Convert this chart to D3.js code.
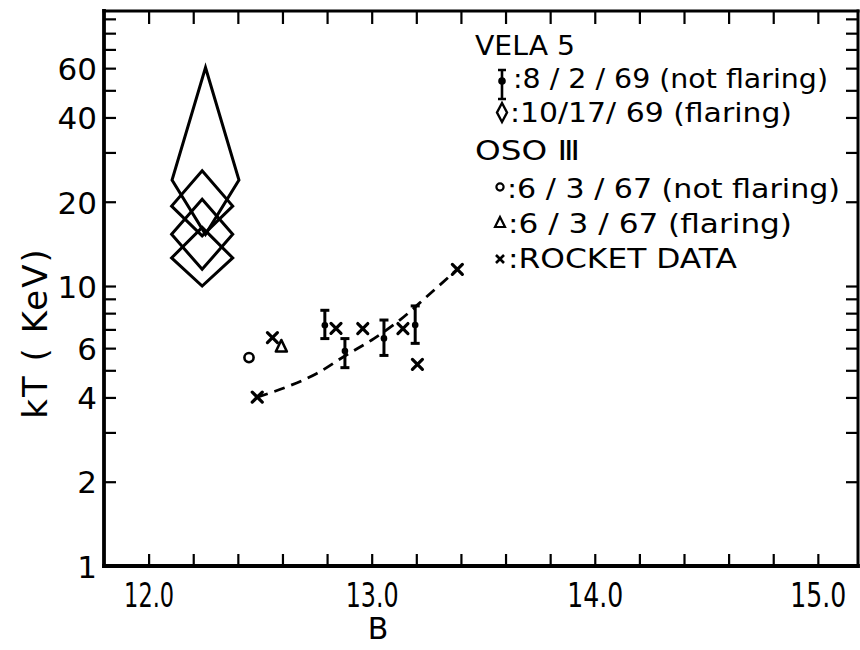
<!DOCTYPE html>
<html>
<head>
<meta charset="utf-8">
<script src="https://cdn.jsdelivr.net/npm/d3@7"></script>
<style>
  html, body { margin: 0; padding: 0; background: #fff; }
  svg { display: block; }
  text { font-family: "DejaVu Sans", sans-serif; fill: #000; }
</style>
</head>
<body>
<svg id="chart" width="860" height="650"></svg>
<script>
// ---- data ----
// x ticks every 0.2 in B, labelled at whole numbers
const xTickValues = d3.range(12.0, 15.001, 0.2).map(v => +v.toFixed(1));
const xTickLabels = [12.0, 13.0, 14.0, 15.0];
// log ticks on kT
const yTickValues = [2, 3, 4, 5, 6, 7, 8, 9, 10, 20, 30, 40, 50, 60, 70, 80, 90];
const yTickLabels = [1, 2, 4, 6, 10, 20, 40, 60];

// VELA 5, 8/2/69 (not flaring): B, kT and error range
const velaQuietB  = [12.79, 12.88, 13.055, 13.195];
const velaQuietKT = [7.24, 5.86, 6.5, 7.26];
const velaQuietLo = [6.49, 5.11, 5.65, 6.24];
const velaQuietHi = [8.19, 6.49, 7.56, 8.49];

// VELA 5, 10/17/69 (flaring): diamond regions
const velaFlareB      = [12.255, 12.24, 12.24, 12.24];
const velaFlareBErr   = [0.15, 0.137, 0.137, 0.137];
const velaFlareTop    = [60.3, 25.8, 20.4, 16.2];
const velaFlareMid    = [23.9, 19.3, 15.3, 12.6];
const velaFlareBottom = [15.3, 15.1, 11.47, 10.0];

// OSO III, 6/3/67
const osoQuietB  = [12.45];
const osoQuietKT = [5.55];
const osoFlareB  = [12.595];
const osoFlareKT = [6.08];

// Rocket data
const rocketB  = [12.487, 12.555, 12.84, 12.96, 13.14, 13.205, 13.384];
const rocketKT = [4.01, 6.54, 7.06, 7.05, 7.05, 5.25, 11.47];

// dashed trend through the rocket points
const trendB  = [12.487, 12.622, 12.756, 12.883, 13.01, 13.13, 13.25, 13.384];
const trendKT = [4.01, 4.37, 4.88, 5.65, 6.49, 7.6, 9.21, 11.47];

// legend
const legendHeads = ["VELA 5", "OSO \u2162"];
const legendItems = [
  ":8 / 2 / 69 (not flaring)",
  ":10/17/ 69 (flaring)",
  ":6 / 3 / 67 (not flaring)",
  ":6 / 3 / 67 (flaring)",
  ":ROCKET  DATA"
];

// ---- layout ----
const svg = d3.select("#chart");
const L = 104, R = 858, T = 11, B = 566;
const x = d3.scaleLinear().domain([11.8, 15.18]).range([L, R]);
const y = d3.scaleLog().domain([1, 96]).range([B, T]);

const ink = "#000";

// tick marks on all four sides, pointing inward
const gBottom = svg.append("g").attr("transform", `translate(0,${B})`)
  .call(d3.axisBottom(x).tickValues(xTickValues).tickSize(-12)
    .tickFormat(d => xTickLabels.includes(d) ? d.toFixed(1) : ""));
gBottom.select(".domain").remove();
gBottom.selectAll("line").attr("stroke", ink).attr("stroke-width", 2.2);
gBottom.selectAll("text")
  .attr("y", 41).attr("dy", 0)
  .style("font-size", "33px")
  .attr("textLength", d => d === 12 ? 50 : (d === 13 ? 53 : 56))
  .attr("lengthAdjust", "spacingAndGlyphs");

const gTop = svg.append("g").attr("transform", `translate(0,${T})`)
  .call(d3.axisTop(x).tickValues(xTickValues).tickSize(-13).tickFormat(""));
gTop.select(".domain").remove();
gTop.selectAll("line").attr("stroke", ink).attr("stroke-width", 2.2);

const gLeft = svg.append("g").attr("transform", `translate(${L},0)`)
  .call(d3.axisLeft(y).tickValues(yTickValues).tickSize(-12).tickFormat(""));
gLeft.select(".domain").remove();
gLeft.selectAll("line").attr("stroke", ink).attr("stroke-width", 2.2);

svg.append("g").attr("transform", `translate(${L},0)`)
  .selectAll("text").data(yTickLabels).join("text")
  .attr("x", -7).attr("y", d => y(d)).attr("dy", "0.38em")
  .attr("text-anchor", "end")
  .style("font-size", "31px")
  .text(d => d);

const gRight = svg.append("g").attr("transform", `translate(${R},0)`)
  .call(d3.axisRight(y).tickValues(yTickValues).tickSize(-12).tickFormat(""));
gRight.select(".domain").remove();
gRight.selectAll("line").attr("stroke", ink).attr("stroke-width", 2.2);

// frame
const frame = svg.append("g").attr("stroke", ink).attr("fill", "none").attr("stroke-linecap", "square");
frame.append("line").attr("x1", L).attr("x2", L).attr("y1", T).attr("y2", B).attr("stroke-width", 3.8);
frame.append("line").attr("x1", L).attr("x2", R).attr("y1", B).attr("y2", B).attr("stroke-width", 3.8);
frame.append("line").attr("x1", L).attr("x2", R).attr("y1", T).attr("y2", T).attr("stroke-width", 3);
frame.append("line").attr("x1", R).attr("x2", R).attr("y1", T).attr("y2", B).attr("stroke-width", 3);

// axis titles
svg.append("text")
  .attr("transform", `translate(47,333) rotate(-90)`)
  .attr("text-anchor", "middle")
  .style("font-size", "34px").style("letter-spacing", "2px")
  .text("kT ( KeV)");
svg.append("text")
  .attr("x", 378).attr("y", 639).attr("text-anchor", "middle")
  .style("font-size", "30px")
  .text("B");

// ---- marks ----
const plot = svg.append("g").attr("stroke", ink).attr("fill", "none").attr("stroke-width", 3);

// dashed trend
plot.append("path")
  .datum(trendB.map((b, i) => [b, trendKT[i]]))
  .attr("d", d3.line().x(d => x(d[0])).y(d => y(d[1])).curve(d3.curveMonotoneX))
  .attr("stroke-width", 2.8)
  .attr("stroke-dasharray", "11,7");

// flaring diamonds
plot.selectAll("path.flare").data(velaFlareB).join("path")
  .attr("class", "flare")
  .attr("stroke-linejoin", "miter")
  .attr("d", (b, i) => {
    const xl = x(b - velaFlareBErr[i]), xr = x(b + velaFlareBErr[i]), xc = x(b);
    return `M${xc},${y(velaFlareTop[i])}L${xr},${y(velaFlareMid[i])}L${xc},${y(velaFlareBottom[i])}L${xl},${y(velaFlareMid[i])}Z`;
  });

// non-flaring error bars
const eb = plot.selectAll("g.eb").data(velaQuietB).join("g").attr("class", "eb");
eb.append("line")
  .attr("x1", d => x(d)).attr("x2", d => x(d))
  .attr("y1", (d, i) => y(velaQuietHi[i])).attr("y2", (d, i) => y(velaQuietLo[i]))
  .attr("stroke-width", 3);
eb.append("line")
  .attr("x1", d => x(d) - 4.5).attr("x2", d => x(d) + 4.5)
  .attr("y1", (d, i) => y(velaQuietHi[i])).attr("y2", (d, i) => y(velaQuietHi[i]))
  .attr("stroke-width", 3);
eb.append("line")
  .attr("x1", d => x(d) - 4.5).attr("x2", d => x(d) + 4.5)
  .attr("y1", (d, i) => y(velaQuietLo[i])).attr("y2", (d, i) => y(velaQuietLo[i]))
  .attr("stroke-width", 3);
eb.append("circle")
  .attr("cx", d => x(d)).attr("cy", (d, i) => y(velaQuietKT[i]))
  .attr("r", 3.3).attr("fill", ink).attr("stroke", "none");

// OSO III
plot.selectAll("circle.oq").data(osoQuietB).join("circle")
  .attr("class", "oq")
  .attr("cx", d => x(d)).attr("cy", (d, i) => y(osoQuietKT[i]))
  .attr("r", 4.6).attr("stroke-width", 2.6);
plot.selectAll("path.of").data(osoFlareB).join("path")
  .attr("class", "of")
  .attr("transform", (d, i) => `translate(${x(d)},${y(osoFlareKT[i])})`)
  .attr("d", "M0,-6.5L5.5,5L-5.5,5Z")
  .attr("stroke-width", 2.6).attr("stroke-linejoin", "round");

// rocket crosses
const cross = "M-5,-5L5,5M-5,5L5,-5";
plot.selectAll("path.rk").data(rocketB).join("path")
  .attr("class", "rk")
  .attr("transform", (d, i) => `translate(${x(d)},${y(rocketKT[i])})`)
  .attr("d", cross)
  .attr("stroke-width", 3.2).attr("stroke-linecap", "round");

// ---- legend ----
const lg = svg.append("g");
const headY = [55, 160];
const headW = [100, 105];
lg.selectAll("text.head").data(legendHeads).join("text")
  .attr("class", "head")
  .attr("x", 475).attr("y", (d, i) => headY[i])
  .attr("textLength", (d, i) => headW[i]).attr("lengthAdjust", "spacingAndGlyphs")
  .style("font-size", "26px")
  .text(d => d);

const itemY = [88, 122, 198, 233, 268];
const itemX = [513, 510, 507, 508, 508];
const itemW = [315, 282, 333, 284, 229];
lg.selectAll("text.item").data(legendItems).join("text")
  .attr("class", "item")
  .attr("x", (d, i) => itemX[i]).attr("y", (d, i) => itemY[i])
  .attr("textLength", (d, i) => itemW[i]).attr("lengthAdjust", "spacingAndGlyphs")
  .style("font-size", "26px")
  .text(d => d);

// legend symbols
const ls = lg.append("g").attr("stroke", ink).attr("fill", "none");
// error bar glyph
ls.append("path").attr("d", "M502,70V99M498,70H506M498,99H506").attr("stroke-width", 2.6);
ls.append("circle").attr("cx", 502).attr("cy", 81).attr("r", 3.8).attr("fill", ink).attr("stroke", "none");
// diamond glyph
ls.append("path").attr("d", "M502,103L507,112.5L502,122L497,112.5Z").attr("stroke-width", 2.4);
// circle glyph
ls.append("circle").attr("cx", 500).attr("cy", 187).attr("r", 3.6).attr("stroke-width", 2.2);
// triangle glyph
ls.append("path").attr("d", "M500,217L505,227L495,227Z").attr("stroke-width", 2.2);
// cross glyph
ls.append("path").attr("d", "M496,255L504,263M496,263L504,255").attr("stroke-width", 2.6);
</script>
</body>
</html>
